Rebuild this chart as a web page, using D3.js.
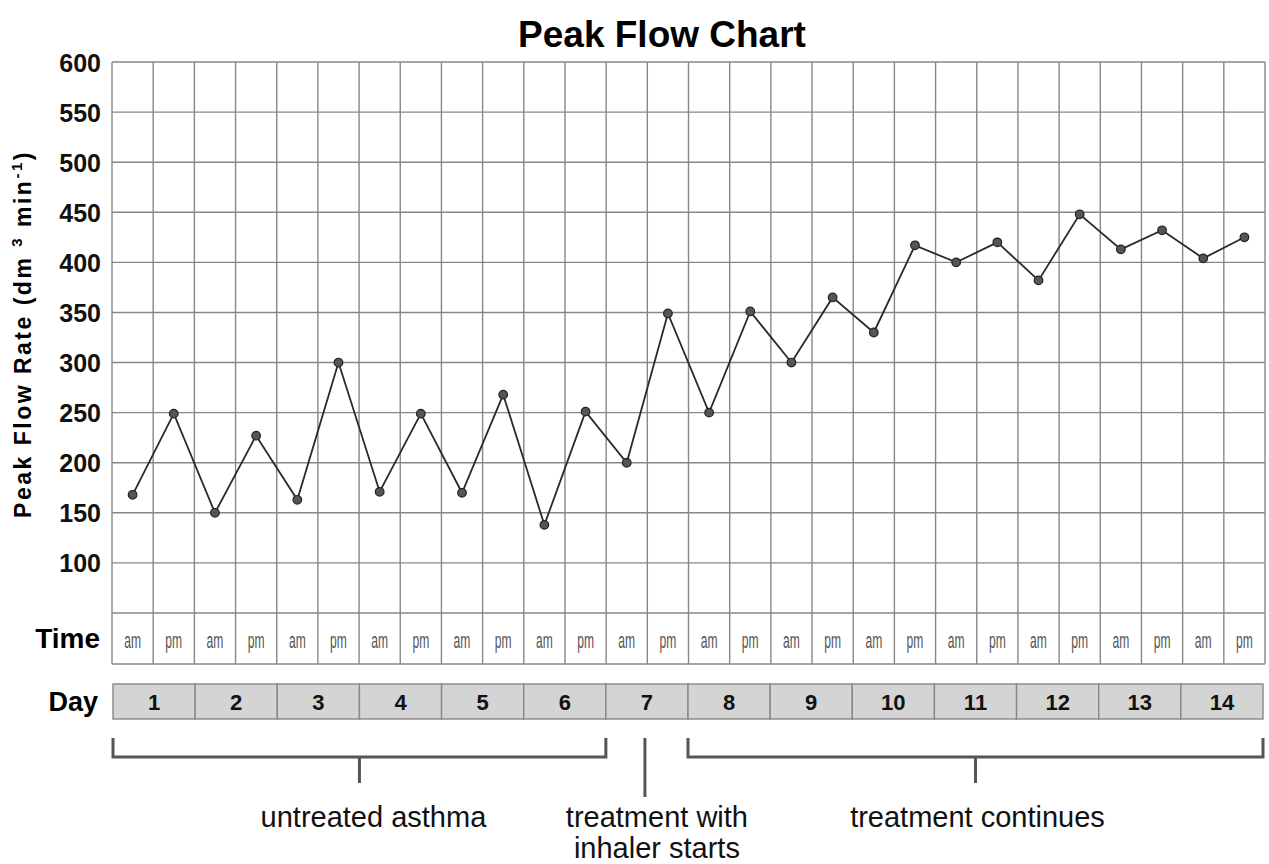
<!DOCTYPE html>
<html>
<head>
<meta charset="utf-8">
<script src="https://cdn.jsdelivr.net/npm/d3@7"></script>
<style>
  body { margin: 0; background: #fff; }
  text { font-family: "Liberation Sans", Arial, sans-serif; }
</style>
</head>
<body>
<svg id="chart" width="1269" height="864"></svg>
<script>
// readings, am then pm for each day
var days = [1, 2, 3, 4, 5, 6, 7, 8, 9, 10, 11, 12, 13, 14];
var times = ["am", "pm"];
var peakFlow = [168, 249, 150, 227, 163, 300, 171, 249, 170, 268, 138, 251, 200, 349,
                250, 351, 300, 365, 330, 417, 400, 420, 382, 448, 413, 432, 404, 425];
var yTicks = [100, 150, 200, 250, 300, 350, 400, 450, 500, 550, 600];
var gridValues = [50, 100, 150, 200, 250, 300, 350, 400, 450, 500, 550, 600];
var phases = [
    {label: ["untreated asthma"], from: 1, to: 6},
    {label: ["treatment with", "inhaler starts"], from: 7, to: 7},
    {label: ["treatment continues"], from: 8, to: 14}
];

var svg = d3.select("#chart");

var margin = {top: 62, left: 112, right: 4};
var width = 1269 - margin.left - margin.right;

// every reading gets its own column
var slots = [];
days.forEach(function (d) {
    times.forEach(function (t) { slots.push({day: d, time: t}); });
});
peakFlow.forEach(function (v, i) { slots[i].val = v; });

var x = d3.scaleBand()
    .domain(d3.range(slots.length))
    .range([margin.left, margin.left + width]);

var y = d3.scaleLinear()
    .domain([50, 600])
    .range([613, margin.top]);

var dayX = d3.scaleBand()
    .domain(days)
    .range([margin.left + 1, margin.left + width - 2]);

var timeRow = {top: y(50), bottom: 664};
var dayRow = {top: 684, bottom: 719};

var gridColor = "#878787";

// title
svg.append("text")
    .attr("x", 662)
    .attr("y", 47)
    .attr("text-anchor", "middle")
    .style("font-size", "37px")
    .style("font-weight", "bold")
    .text("Peak Flow Chart");

// grid
var grid = svg.append("g");

grid.selectAll("line.h")
    .data(gridValues)
    .enter()
    .append("line")
    .attr("class", "h")
    .attr("x1", margin.left)
    .attr("x2", margin.left + width)
    .attr("y1", function (d) { return y(d); })
    .attr("y2", function (d) { return y(d); })
    .attr("stroke", gridColor)
    .attr("stroke-width", 1.4);

grid.append("line")
    .attr("x1", margin.left)
    .attr("x2", margin.left + width)
    .attr("y1", timeRow.bottom)
    .attr("y2", timeRow.bottom)
    .attr("stroke", gridColor)
    .attr("stroke-width", 1.4);

var colEdges = d3.range(slots.length + 1).map(function (i) {
    return i < slots.length ? x(i) : x(slots.length - 1) + x.bandwidth();
});

grid.selectAll("line.v")
    .data(colEdges)
    .enter()
    .append("line")
    .attr("class", "v")
    .attr("x1", function (d) { return d; })
    .attr("x2", function (d) { return d; })
    .attr("y1", margin.top)
    .attr("y2", timeRow.bottom)
    .attr("stroke", gridColor)
    .attr("stroke-width", 1.4);

// y axis labels
var yAxis = d3.axisLeft(y).tickValues(yTicks).tickSize(0).tickPadding(0);
var gy = svg.append("g")
    .attr("transform", "translate(101,0)")
    .call(yAxis);
gy.select(".domain").remove();
gy.selectAll("text")
    .attr("dy", "0.36em")
    .style("font-family", "'Liberation Sans', Arial, sans-serif")
    .style("font-size", "25px")
    .style("font-weight", "bold")
    .attr("fill", "#111");

// y axis title
var yTitle = svg.append("text")
    .attr("transform", "translate(31,334) rotate(-90)")
    .attr("text-anchor", "middle")
    .style("font-size", "23px")
    .style("font-weight", "bold")
    .style("letter-spacing", "2.5px");
yTitle.append("tspan").text("Peak Flow Rate (dm ");
yTitle.append("tspan").attr("dy", -9).style("font-size", "15px").text("3");
yTitle.append("tspan").attr("dy", 9).text(" min");
yTitle.append("tspan").attr("dy", -9).style("font-size", "15px").text("-1");
yTitle.append("tspan").attr("dy", 9).text(")");

// line + points
var line = d3.line()
    .x(function (d, i) { return x(i) + x.bandwidth() / 2; })
    .y(function (d) { return y(d.val); });

svg.append("path")
    .datum(slots)
    .attr("d", line)
    .attr("fill", "none")
    .attr("stroke", "#2a2a2a")
    .attr("stroke-width", 1.8);

svg.selectAll("circle.pt")
    .data(slots)
    .enter()
    .append("circle")
    .attr("class", "pt")
    .attr("cx", function (d, i) { return x(i) + x.bandwidth() / 2; })
    .attr("cy", function (d) { return y(d.val); })
    .attr("r", 4.3)
    .attr("fill", "#555")
    .attr("stroke", "#222")
    .attr("stroke-width", 1.2);

// time row
svg.append("text")
    .attr("x", 100)
    .attr("y", 648)
    .attr("text-anchor", "end")
    .style("font-size", "28px")
    .style("font-weight", "bold")
    .text("Time");

// am / pm are drawn tall and squeezed, like the original
svg.selectAll("text.tm")
    .data(slots)
    .enter()
    .append("text")
    .attr("class", "tm")
    .attr("transform", function (d, i) {
        return "translate(" + (x(i) + x.bandwidth() / 2) + ",648) scale(0.55,1)";
    })
    .attr("text-anchor", "middle")
    .style("font-size", "22px")
    .attr("fill", "#555")
    .text(function (d) { return d.time; });

// day row
svg.append("text")
    .attr("x", 98)
    .attr("y", 711)
    .attr("text-anchor", "end")
    .style("font-size", "27px")
    .style("font-weight", "bold")
    .text("Day");

svg.selectAll("rect.day")
    .data(days)
    .enter()
    .append("rect")
    .attr("class", "day")
    .attr("x", function (d) { return dayX(d); })
    .attr("y", dayRow.top)
    .attr("width", dayX.bandwidth())
    .attr("height", dayRow.bottom - dayRow.top)
    .attr("fill", "#d4d4d4")
    .attr("stroke", "#888")
    .attr("stroke-width", 1.4);

svg.selectAll("text.day")
    .data(days)
    .enter()
    .append("text")
    .attr("class", "day")
    .attr("x", function (d) { return dayX(d) + dayX.bandwidth() / 2; })
    .attr("y", 710)
    .attr("text-anchor", "middle")
    .style("font-size", "22px")
    .style("font-weight", "bold")
    .attr("fill", "#111")
    .text(function (d) { return d; });

// phase brackets
var bracketColor = "#555";
var br = {top: 738, mid: 757, tick: 783, single: 797};
var labelShift = [14, 12, 2];   // text sits a little right of the bracket tick

phases.forEach(function (p, k) {
    var x0 = dayX(p.from), x1 = dayX(p.to) + dayX.bandwidth();
    var g = svg.append("g")
        .attr("fill", "none")
        .attr("stroke", bracketColor)
        .attr("stroke-width", 3);
    var cx;
    if (p.from === p.to) {
        cx = (x0 + x1) / 2 - 2;
        g.append("line").attr("x1", cx).attr("x2", cx).attr("y1", br.top).attr("y2", br.single);
    } else {
        cx = (x0 + x1) / 2;
        g.append("path")
            .attr("d", "M" + x0 + "," + br.top + "V" + br.mid + "H" + x1 + "V" + br.top);
        g.append("line").attr("x1", cx).attr("x2", cx).attr("y1", br.mid).attr("y2", br.tick);
    }
    var t = svg.append("text")
        .attr("y", 827)
        .attr("text-anchor", "middle")
        .style("font-size", "29px")
        .attr("fill", "#111");
    p.label.forEach(function (s, i) {
        t.append("tspan")
            .attr("x", cx + labelShift[k])
            .attr("dy", i === 0 ? 0 : 31)
            .text(s);
    });
});
</script>
</body>
</html>
